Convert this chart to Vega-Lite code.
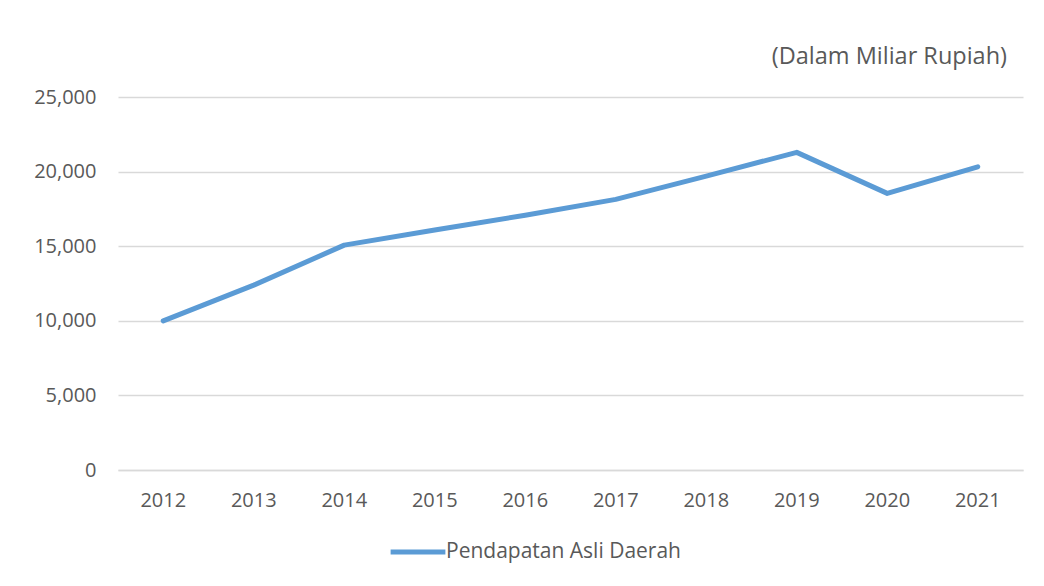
{
  "$schema": "https://vega.github.io/schema/vega-lite/v6.json",
  "autosize": "none",
  "width": 905,
  "height": 373,
  "padding": {"left": 118, "top": 97, "right": 21, "bottom": 116},
  "background": "white",
  "title": {"text": "(Dalam Miliar Rupiah)", "anchor": "end", "fontSize": 23.5, "fontWeight": "normal", "font": "Open Sans", "color": "#595959", "offset": 19, "dx": -16},
  "data": {"values": [
    {"tahun": "2012", "nilai": 10000, "seri": "Pendapatan Asli Daerah"},
    {"tahun": "2013", "nilai": 12390, "seri": "Pendapatan Asli Daerah"},
    {"tahun": "2014", "nilai": 15070, "seri": "Pendapatan Asli Daerah"},
    {"tahun": "2015", "nilai": 16080, "seri": "Pendapatan Asli Daerah"},
    {"tahun": "2016", "nilai": 17080, "seri": "Pendapatan Asli Daerah"},
    {"tahun": "2017", "nilai": 18140, "seri": "Pendapatan Asli Daerah"},
    {"tahun": "2018", "nilai": 19700, "seri": "Pendapatan Asli Daerah"},
    {"tahun": "2019", "nilai": 21290, "seri": "Pendapatan Asli Daerah"},
    {"tahun": "2020", "nilai": 18540, "seri": "Pendapatan Asli Daerah"},
    {"tahun": "2021", "nilai": 20320, "seri": "Pendapatan Asli Daerah"}
  ]},
  "mark": {"type": "line", "strokeWidth": 5, "strokeCap": "round", "strokeJoin": "round"},
  "encoding": {
    "x": {"field": "tahun", "type": "ordinal", "title": null,
      "scale": {"type": "band", "paddingInner": 0, "paddingOuter": 0},
      "axis": {"labelAngle": 0, "ticks": false, "domainColor": "#D9D9D9", "domainWidth": 1.5, "labelPadding": 20, "labelFontSize": 20, "labelFont": "Open Sans", "labelColor": "#595959", "grid": false}},
    "y": {"field": "nilai", "type": "quantitative", "title": null,
      "scale": {"domain": [0, 25000], "nice": false},
      "axis": {"values": [0, 5000, 10000, 15000, 20000, 25000], "format": ",.0f", "domain": false, "ticks": false, "labelPadding": 22, "labelFontSize": 20, "labelFont": "Open Sans", "labelColor": "#595959", "gridColor": "#D9D9D9", "gridWidth": 1.5}},
    "color": {"field": "seri", "type": "nominal", "title": null,
      "scale": {"range": ["#5B9BD5"]},
      "legend": {"orient": "none", "legendX": 270, "legendY": 425, "symbolType": "stroke", "symbolStrokeWidth": 5, "symbolSize": 3000, "labelFontSize": 21, "labelFont": "Open Sans", "labelColor": "#595959", "labelOffset": -2, "labelLimit": 500}}
  },
  "config": {"view": {"stroke": null}}
}
